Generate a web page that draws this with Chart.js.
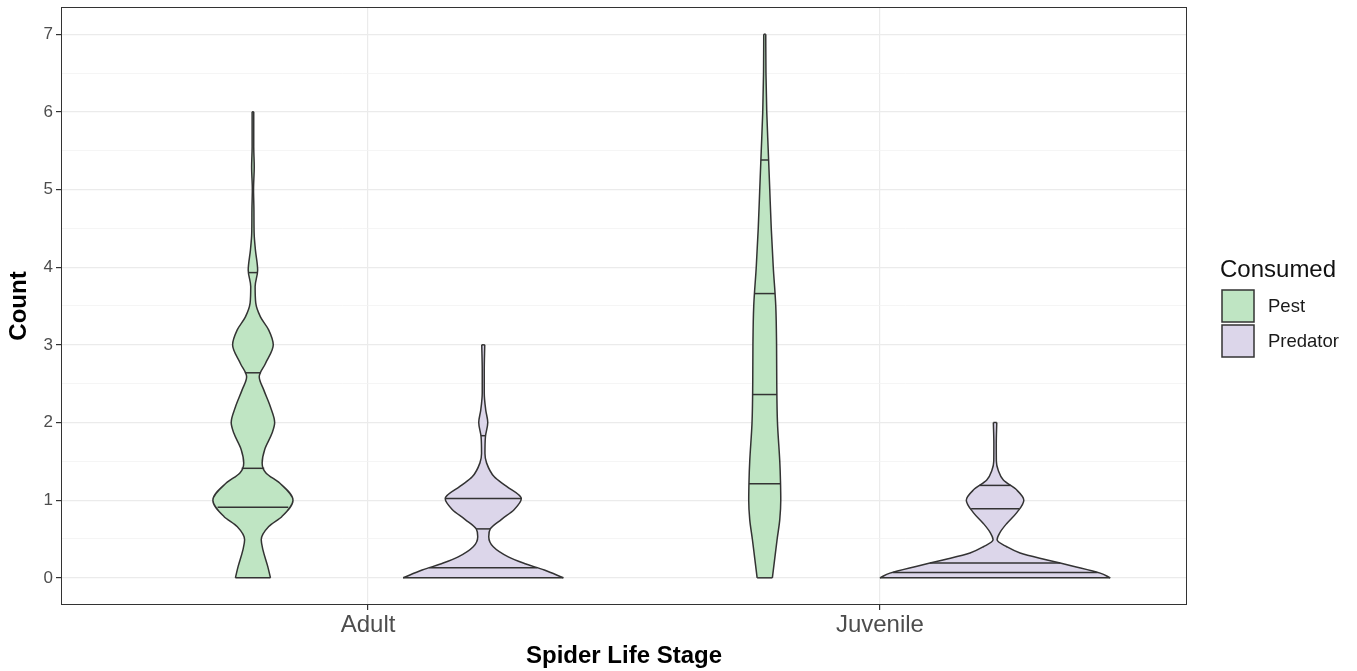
<!DOCTYPE html>
<html>
<head>
<meta charset="utf-8">
<script src="https://cdn.jsdelivr.net/npm/chart.js@4.4.1/dist/chart.umd.min.js"></script>
<style>
  html, body { margin: 0; padding: 0; background: #ffffff; }
  #wrap { width: 1357px; height: 671px; }
</style>
</head>
<body>
<div id="wrap"><canvas id="violinChart" width="1357" height="671"></canvas></div>
<script>
// categories
const stages = ['Adult', 'Juvenile'];
const consumed = ['Pest', 'Predator'];
const yTicks = [0, 1, 2, 3, 4, 5, 6, 7];

// violin outlines: count levels and density (relative half-width)
const adultPestY = [0, 0.15, 0.36, 0.49, 0.66, 0.79, 1.0, 1.22, 1.35, 1.48, 1.65, 1.86, 2.0, 2.2, 2.42, 2.59, 2.76, 3.0, 3.19, 3.36, 3.54, 3.75, 3.96, 4.22, 4.44, 4.74, 5.0, 5.29, 5.55, 6.0];
const adultPestD = [17.5, 14.7, 10, 8.3, 15.8, 29, 40, 26.7, 13, 9.2, 11.7, 19, 21.7, 17.5, 10.8, 6.3, 12.5, 20.3, 15.8, 7.5, 2.8, 2.2, 4.7, 2.5, 1.2, 1, 0.6, 1.3, 0.8, 0.8];

const adultPredY = [0, 0.1, 0.19, 0.27, 0.4, 0.53, 0.63, 0.75, 0.88, 1.02, 1.18, 1.3, 1.48, 1.6, 1.82, 2.0, 2.16, 2.38, 2.68, 3.0];
const adultPredD = [80, 61, 40, 25, 10, 5.5, 7, 18, 31, 38, 23, 11, 3.3, 1.7, 2.2, 4.5, 2.5, 1, 1, 1.5];

const juvPestY = [0, 0.25, 0.5, 0.75, 1.0, 1.25, 1.5, 2.0, 2.5, 3.0, 3.5, 4.0, 4.5, 5.0, 5.5, 6.0, 6.5, 7.0];
const juvPestD = [7.6, 10, 12.4, 15, 16, 15.7, 15, 12.7, 12, 11.8, 11, 8.5, 6.5, 5, 3.5, 2, 1.2, 1];

const juvPredY = [0, 0.06, 0.15, 0.23, 0.32, 0.4, 0.49, 0.58, 0.7, 0.84, 1.0, 1.13, 1.26, 1.39, 1.5, 1.73, 2.0];
const juvPredD = [115, 105, 78, 52, 25, 11.7, 2, 4.7, 11.7, 21.7, 28.7, 21.7, 8.3, 3, 1.3, 1.2, 1.7];

// quantile lines drawn inside each violin
const adultPestQ = [0.91, 1.41, 2.64, 3.93];
const adultPredQ = [0.13, 0.63, 1.02, 1.83];
const juvPestQ = [1.21, 2.36, 3.66, 5.38];
const juvPredQ = [0.07, 0.19, 0.89, 1.19];

const fillColors = ['#bfe5c3', '#dcd6ea'];
const lineColor = '#333333';
const fontFamily = '"Liberation Sans", Arial, sans-serif';

const violins = [
  { stage: 0, group: 0, ys: adultPestY, ds: adultPestD, qs: adultPestQ },
  { stage: 0, group: 1, ys: adultPredY, ds: adultPredD, qs: adultPredQ },
  { stage: 1, group: 0, ys: juvPestY, ds: juvPestD, qs: juvPestQ },
  { stage: 1, group: 1, ys: juvPredY, ds: juvPredD, qs: juvPredQ }
];

const dodge = 0.225;     // half of the 0.9 dodge width
const maxHalf = 0.225;   // widest violin half-width in x units
const maxDensity = Math.max(...violins.map(v => Math.max(...v.ds)));

function densityAt(v, y) {
  for (let i = 0; i < v.ys.length - 1; i++) {
    if (y >= v.ys[i] && y <= v.ys[i + 1]) {
      const t = (y - v.ys[i]) / (v.ys[i + 1] - v.ys[i]);
      return v.ds[i] + t * (v.ds[i + 1] - v.ds[i]);
    }
  }
  return 0;
}

function segment(x0, x1, y) {
  return {
    label: 'seg',
    data: [{ x: x0, y: y }, { x: x1, y: y }],
    borderColor: lineColor,
    borderWidth: 1.5,
    fill: false,
    pointRadius: 0,
    tension: 0,
    order: 1
  };
}

const datasets = [];
violins.forEach(v => {
  const cx = v.stage + 1 + (v.group === 0 ? -dodge : dodge);
  const w = d => d / maxDensity * maxHalf;
  const side = sign => ({
    label: consumed[v.group],
    data: v.ys.map((y, i) => ({ x: cx + sign * w(v.ds[i]), y: y })),
    borderColor: lineColor,
    borderWidth: 1.5,
    backgroundColor: fillColors[v.group],
    fill: sign < 0 ? '+1' : false,
    cubicInterpolationMode: 'monotone',
    pointRadius: 0,
    order: 2
  });
  datasets.push(side(-1), side(1));
  const n = v.ys.length - 1;
  datasets.push(segment(cx - w(v.ds[0]), cx + w(v.ds[0]), v.ys[0]));
  datasets.push(segment(cx - w(v.ds[n]), cx + w(v.ds[n]), v.ys[n]));
  v.qs.forEach(q => {
    const hw = w(densityAt(v, q));
    datasets.push(segment(cx - hw, cx + hw, q));
  });
});

const panelPlugin = {
  id: 'panelAndLegend',
  afterDraw(chart) {
    const { ctx, chartArea: a } = chart;
    ctx.save();
    ctx.strokeStyle = lineColor;
    ctx.lineWidth = 1;
    ctx.strokeRect(a.left + 0.5, a.top + 0.5, a.right - a.left - 1, a.bottom - a.top - 1);

    // legend
    ctx.fillStyle = '#111111';
    ctx.font = '24px ' + fontFamily;
    ctx.textBaseline = 'alphabetic';
    ctx.textAlign = 'left';
    ctx.fillText('Consumed', 1220, 277);
    consumed.forEach((name, i) => {
      const top = 290 + i * 35;
      ctx.fillStyle = fillColors[i];
      ctx.fillRect(1222, top, 32, 32);
      ctx.strokeStyle = lineColor;
      ctx.lineWidth = 1.5;
      ctx.strokeRect(1222, top, 32, 32);
      ctx.fillStyle = '#1a1a1a';
      ctx.font = '18.5px ' + fontFamily;
      ctx.textBaseline = 'middle';
      ctx.fillText(name, 1268, top + 17);
    });
    ctx.restore();
  }
};

new Chart(document.getElementById('violinChart'), {
  type: 'line',
  data: { datasets: datasets },
  plugins: [panelPlugin],
  options: {
    indexAxis: 'y',
    responsive: false,
    devicePixelRatio: 1,
    animation: false,
    layout: { padding: { left: 0, right: 170, top: 7, bottom: 0 } },
    plugins: {
      legend: { display: false },
      tooltip: { enabled: false },
      filler: { drawTime: 'beforeDatasetsDraw' }
    },
    scales: {
      x: {
        type: 'linear',
        position: 'bottom',
        min: 0.4,
        max: 2.6,
        afterBuildTicks: s => { s.ticks = stages.map((_, i) => ({ value: i + 1 })); },
        afterFit: s => { s.height = 66; s.paddingLeft = 0; s.paddingRight = 0; },
        ticks: {
          callback: v => stages[v - 1],
          color: '#4d4d4d',
          font: { family: fontFamily, size: 24 },
          padding: 1,
          maxRotation: 0
        },
        grid: { color: '#ebebeb', lineWidth: 1.2, tickColor: lineColor, tickLength: 5 },
        border: { display: false },
        title: {
          display: true,
          text: 'Spider Life Stage',
          color: '#000000',
          font: { family: fontFamily, size: 24, weight: 'bold' },
          padding: { top: 0, bottom: 0 }
        }
      },
      y: {
        type: 'linear',
        position: 'left',
        min: -0.35,
        max: 7.35,
        afterBuildTicks: s => {
          const t = [];
          for (let v = 0; v <= 7; v += 0.5) t.push({ value: v });
          s.ticks = t;
        },
        afterFit: s => { s.width = 61; s.paddingTop = 0; s.paddingBottom = 0; },
        ticks: {
          callback: v => (yTicks.includes(v) ? String(v) : ''),
          color: '#4d4d4d',
          font: { family: fontFamily, size: 17 },
          padding: 3
        },
        grid: {
          color: c => (Number.isInteger(c.tick.value) ? '#ebebeb' : '#f3f3f3'),
          lineWidth: c => (Number.isInteger(c.tick.value) ? 1.2 : 0.8),
          tickColor: c => (Number.isInteger(c.tick.value) ? lineColor : 'rgba(0,0,0,0)'),
          tickLength: 5
        },
        border: { display: false },
        title: {
          display: true,
          text: 'Count',
          color: '#000000',
          font: { family: fontFamily, size: 24, weight: 'bold' },
          padding: { top: 5, bottom: 0 }
        }
      }
    }
  }
});
</script>
</body>
</html>
